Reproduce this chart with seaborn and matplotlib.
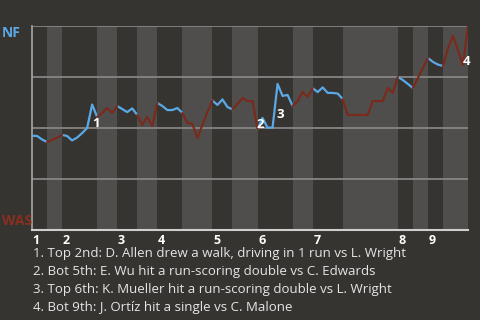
import matplotlib
matplotlib.use("Agg")
import matplotlib.pyplot as plt
import seaborn as sns
import pandas as pd
import numpy as np

# Win probability (NF at top) after each play
win_prob = [0.462, 0.461, 0.444, 0.431, 0.441, 0.453, 0.466, 0.461, 0.439, 0.453,
            0.475, 0.500, 0.615, 0.554, 0.574, 0.598, 0.574, 0.608, 0.593, 0.578,
            0.596, 0.564, 0.515, 0.554, 0.510, 0.623, 0.608, 0.588, 0.588, 0.598,
            0.574, 0.525, 0.520, 0.451, 0.515, 0.578, 0.635, 0.613, 0.640, 0.603,
            0.591, 0.618, 0.647, 0.632, 0.632, 0.495, 0.549, 0.502, 0.502, 0.716,
            0.657, 0.662, 0.608, 0.632, 0.676, 0.652, 0.696, 0.676, 0.699, 0.672,
            0.672, 0.669, 0.642, 0.564, 0.564, 0.564, 0.564, 0.564, 0.632, 0.632,
            0.632, 0.696, 0.672, 0.750, 0.735, 0.716, 0.696, 0.745, 0.794, 0.843,
            0.824, 0.811, 0.804, 0.890, 0.951, 0.882, 0.809, 1.000]

# play index where each half-inning starts (top 1, bot 1, top 2, ...), plus final
half_starts = [0, 3, 6, 13, 17, 21, 25, 30, 36, 40, 45, 52, 56, 62, 73, 76, 79, 82, 87]
innings = ["1", "2", "3", "4", "5", "6", "7", "8", "9"]
teams = ["NF", "WAS"]

event_plays = [12, 45, 49, 86]
event_labels = ["1", "2", "3", "4"]
event_texts = [
    "1. Top 2nd: D. Allen drew a walk, driving in 1 run vs L. Wright",
    "2. Bot 5th: E. Wu hit a run-scoring double vs C. Edwards",
    "3. Top 6th: K. Mueller hit a run-scoring double vs L. Wright",
    "4. Bot 9th: J. Ortíz hit a single vs C. Malone",
]

BG = "#363431"
BAND = "#504e4c"
BLUE = "#5aa9e6"
RED = "#7a2a1c"
RED_TXT = "#8a2e1e"

rows = []
for h in range(len(half_starts) - 1):
    a, b = half_starts[h], half_starts[h + 1]
    team = teams[h % 2]
    for i in range(a, b + 1):
        rows.append({"play": i, "wp": win_prob[i], "seg": h, "team": team})
df = pd.DataFrame(rows)

sns.set_theme(style="dark")
plt.rcParams["font.family"] = ["Open Sans", "DejaVu Sans"]
NARROW = ["Liberation Sans Narrow", "Open Sans", "DejaVu Sans"]

fig = plt.figure(figsize=(4.8, 3.2), dpi=100, facecolor=BG)
ax = fig.add_axes([32 / 480, 90 / 320, 436 / 480, 204 / 320])
ax.set_facecolor(BG)

for h in range(1, len(half_starts) - 1, 2):
    ax.axvspan(half_starts[h], half_starts[h + 1], color=BAND, lw=0, zorder=0)

for yv in [0.25, 0.5, 0.75, 1.0]:
    ax.axhline(yv, color="#8c8b89", lw=1.2, zorder=1)

sns.lineplot(data=df, x="play", y="wp", hue="team", units="seg", estimator=None,
             palette={"NF": BLUE, "WAS": RED}, legend=False, lw=1.6, ax=ax, zorder=3,
             sort=False)

offsets = [(0, -9), (-0.5, -1.5), (-1, -17), (-0.5, -2)]
for p, lab, off in zip(event_plays, event_labels, offsets):
    ax.annotate(lab, (p, win_prob[p]), xytext=off, textcoords="offset points",
                color="white", fontsize=9.5, fontweight="bold", ha="left",
                va="top" if off[1] < -5 else "bottom", zorder=5)

ax.set_xlim(0, half_starts[-1])
ax.set_ylim(0, 1)
ax.set_xticks([])
ax.set_yticks([])
ax.set_xlabel("")
ax.set_ylabel("")
for s in ["top", "right"]:
    ax.spines[s].set_visible(False)
ax.spines["left"].set_color("#a8a7a5")
ax.spines["left"].set_linewidth(1.2)
ax.spines["bottom"].set_color("#d0cfcd")
ax.spines["bottom"].set_linewidth(1.5)

for k, name in enumerate(innings):
    x0 = half_starts[2 * k]
    ax.text(x0 + 0.15, -0.02, name, color="white",
            fontsize=9, fontweight="bold", ha="left", va="top")

fig.text(2 / 480, 1 - 33 / 320, teams[0], color=BLUE, fontsize=10, fontweight="bold",
         ha="left", va="center", family=NARROW)
fig.text(2 / 480, 1 - 221 / 320, teams[1], color=RED_TXT, fontsize=10, fontweight="bold",
         ha="left", va="center", family=NARROW)

for k, t in enumerate(event_texts):
    fig.text(33 / 480, 1 - (254 + 18 * k) / 320, t, color="#e6e6e6", fontsize=9.5,
             ha="left", va="center")

fig.savefig("out.png", dpi=100, facecolor=BG)
